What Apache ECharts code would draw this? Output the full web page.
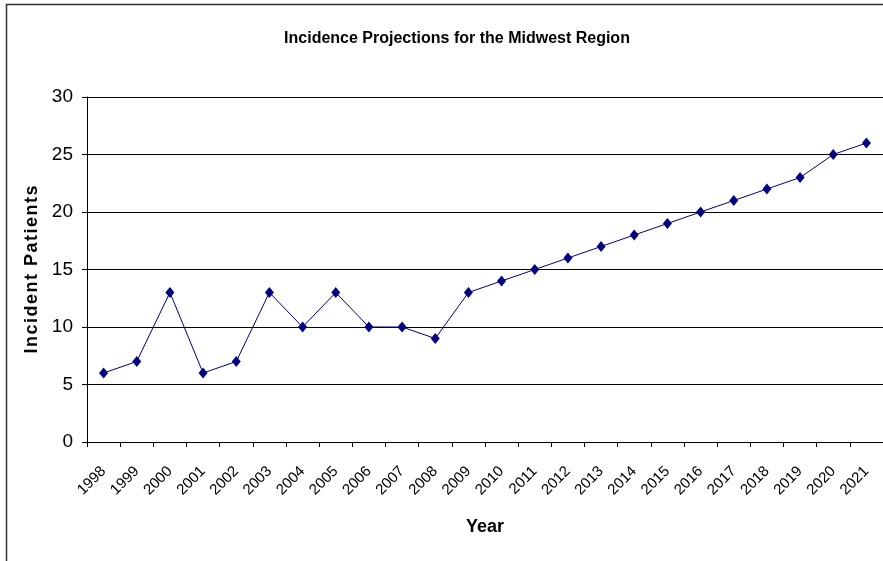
<!DOCTYPE html>
<html>
<head>
<meta charset="utf-8">
<script src="https://cdn.jsdelivr.net/npm/echarts@6/dist/echarts.min.js"></script>
<style>
  html, body { margin: 0; padding: 0; background: #fff; }
  #chart { width: 883px; height: 561px; }
</style>
</head>
<body>
<div id="chart"></div>
<script>
// Projected incident patients per year, Midwest region
const years = ['1998','1999','2000','2001','2002','2003','2004','2005','2006','2007','2008','2009',
               '2010','2011','2012','2013','2014','2015','2016','2017','2018','2019','2020','2021'];
const incidentPatients = [6, 7, 13, 6, 7, 13, 10, 13, 10, 10, 9, 13,
                          14, 15, 16, 17, 18, 19, 20, 21, 22, 23, 25, 26];
const yTicks = [0, 5, 10, 15, 20, 25, 30];

const font = '"Liberation Sans Narrow", "Arial Narrow", "Liberation Sans", Arial, sans-serif';
// slightly spaced-out axis title
const yTitle = 'Incident Patients'.split('').join('\u200A');

const chart = echarts.init(document.getElementById('chart'), null, { renderer: 'canvas' });

chart.setOption({
  animation: false,
  backgroundColor: '#fff',
  title: {
    text: 'Incidence Projections for the Midwest Region',
    left: 452, top: 26, textAlign: 'center',
    textStyle: { fontFamily: font, fontSize: 16, fontWeight: 'bold', color: '#000' }
  },
  graphic: [{
    type: 'rect',
    shape: { x: 6.5, y: 4.5, width: 900, height: 600 },
    style: { fill: 'none', stroke: '#333', lineWidth: 1.5 },
    silent: true
  }],
  grid: { left: 87, top: 97, width: 799, height: 345, containLabel: false },
  xAxis: {
    type: 'category',
    data: years,
    boundaryGap: true,
    name: 'Year',
    nameLocation: 'middle',
    nameGap: 76,
    nameTextStyle: { fontFamily: font, fontSize: 18, fontWeight: 'bold', color: '#000' },
    axisLine: { lineStyle: { color: '#000', width: 1 } },
    axisTick: { show: true, length: 5, inside: false, lineStyle: { color: '#000' } },
    axisLabel: { rotate: 45, margin: 27, interval: 0, fontFamily: font, fontSize: 15, color: '#000' },
    splitLine: { show: false }
  },
  yAxis: {
    type: 'value',
    min: yTicks[0], max: yTicks[yTicks.length - 1], interval: 5,
    name: yTitle,
    nameLocation: 'middle',
    nameGap: 44,
    nameRotate: 90,
    nameTextStyle: { fontFamily: font, fontSize: 18, fontWeight: 'bold', color: '#000' },
    axisLine: { show: true, lineStyle: { color: '#000', width: 1 } },
    axisTick: { show: true, length: 5, lineStyle: { color: '#000' } },
    axisLabel: { margin: 14, fontFamily: font, fontSize: 19, color: '#000' },
    splitLine: { show: true, lineStyle: { color: '#000', width: 1 } }
  },
  series: [{
    type: 'line',
    data: incidentPatients,
    symbol: 'diamond',
    symbolSize: [9, 11],
    lineStyle: { color: '#000080', width: 1 },
    itemStyle: { color: '#000080' }
  }]
});
</script>
</body>
</html>
